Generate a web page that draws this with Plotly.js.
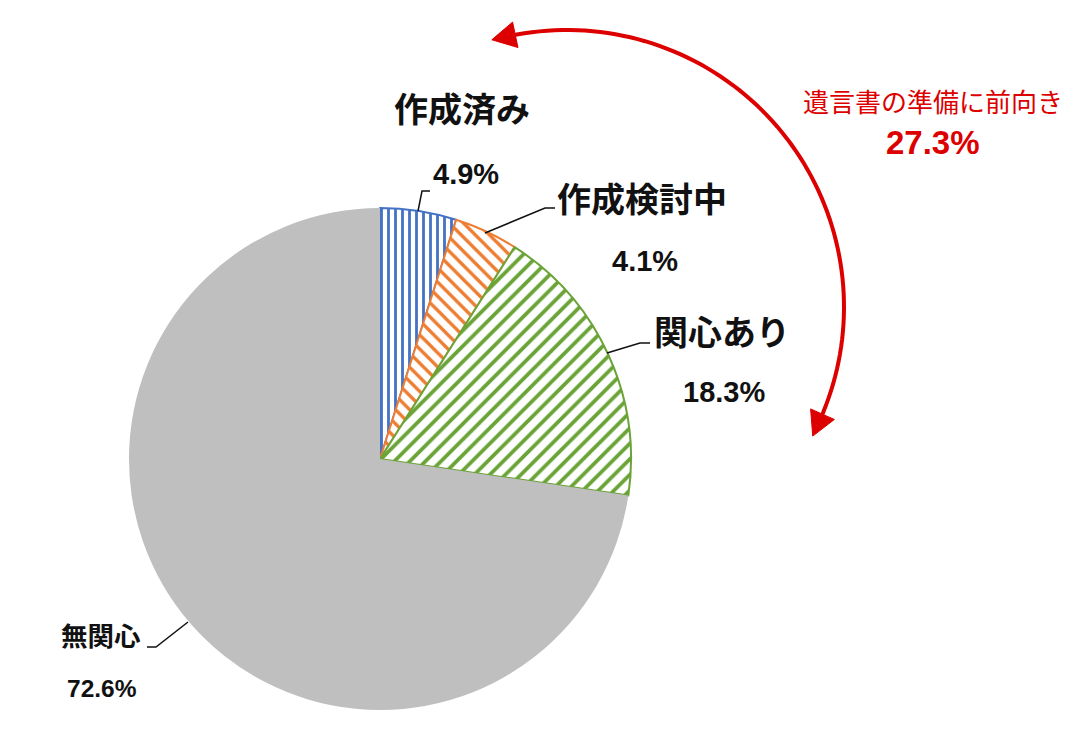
<!DOCTYPE html>
<html>
<head>
<meta charset="utf-8">
<script src="https://cdn.plot.ly/plotly-3.0.1.min.js"></script>
<style>
  html, body { margin: 0; padding: 0; background: #fff; }
  #chart { width: 1078px; height: 752px; }
</style>
</head>
<body>
<div id="chart"></div>
<script>
// 遺言書に対する意識（構成比 %）
const categories = ['作成済み', '作成検討中', '関心あり', '無関心'];
const shares = [4.9, 4.1, 18.3, 72.6];
const valueLabels = ['4.9%', '4.1%', '18.3%', '72.6%'];
const positiveLabel = '遺言書の準備に前向き';
const positiveShare = '27.3%';

const W = 1078, H = 752;
const px = x => x / W;
const py = y => 1 - y / H;

const sliceColors = ['#4472C4', '#ED7D31', '#6AA336', '#BFBFBF'];

// pie placement (pixels)
const cx = 380, cy = 459, R = 251;

const pie = {
  type: 'pie',
  labels: categories,
  values: shares,
  sort: false,
  direction: 'clockwise',
  rotation: 0,
  textinfo: 'none',
  hoverinfo: 'label+value',
  showlegend: false,
  domain: { x: [px(cx - R), px(cx + R)], y: [py(cy + R), py(cy - R)] },
  marker: {
    colors: sliceColors,
    line: { color: sliceColors, width: [2, 2, 2, 0] },
    pattern: {
      shape: ['|', '\\', '/', ''],
      fgcolor: sliceColors,
      bgcolor: ['#ffffff', '#ffffff', '#ffffff', '#BFBFBF'],
      size: [7, 10, 11, 8],
      solidity: [0.4, 0.34, 0.34, 0.3]
    }
  }
};

const labelFont = 'Noto Sans CJK JP, Liberation Sans, sans-serif';
const numFont = 'Liberation Sans, Arial, sans-serif';

function txt(text, x, y, size, family, color, weight) {
  return {
    text: text, x: px(x), y: py(y), xref: 'paper', yref: 'paper',
    xanchor: 'center', yanchor: 'middle', showarrow: false,
    font: { family: family, size: size, color: color || '#111', weight: weight || 'bold' }
  };
}

// label positions: [name x, name y, value x, value y, name size, value size]
const labelPos = [
  [462, 108, 466, 174, 34, 29],
  [642, 197, 645, 261, 34, 29],
  [722, 330, 724, 392, 34, 29],
  [101, 634, 102, 688, 26.5, 24.5]
];

const annotations = [];
categories.forEach((c, i) => {
  const p = labelPos[i];
  annotations.push(txt(c, p[0], p[1], p[4], labelFont));
  annotations.push(txt(valueLabels[i], p[2], p[3], p[5], numFont));
});
annotations.push(txt(positiveLabel, 933, 101, 26, labelFont, '#DD0000', 'normal'));
annotations.push(txt(positiveShare, 933, 143, 33, numFont, '#DD0000', 'bold'));

// leader lines (pixel polylines)
const leaders = [
  [[418, 211], [422, 191], [430, 191]],
  [[485, 233], [545, 208], [555, 208]],
  [[607, 353], [640, 343], [650, 343]],
  [[188, 622], [156, 647], [147, 647]]
];
function polyPath(pts) {
  return pts.map((p, i) => (i ? 'L' : 'M') + px(p[0]).toFixed(5) + ',' + py(p[1]).toFixed(5)).join(' ');
}
const shapes = leaders.map(l => ({
  type: 'path', xref: 'paper', yref: 'paper', path: polyPath(l),
  line: { color: '#111', width: 1.5 }
}));

// red bracket arc with arrowheads at both ends
const red = '#DD0000';
const ac = [567, 307], ar = 277;
const a0 = -102 * Math.PI / 180, a1 = 24 * Math.PI / 180;
const arcPts = [];
for (let k = 0; k <= 80; k++) {
  const a = a0 + (a1 - a0) * k / 80;
  arcPts.push([ac[0] + ar * Math.cos(a), ac[1] + ar * Math.sin(a)]);
}
shapes.push({ type: 'path', xref: 'paper', yref: 'paper', path: polyPath(arcPts),
  line: { color: red, width: 4 } });

function head(a, sign) {
  // tangent direction along the arc at angle a (sign -1: backwards)
  const base = [ac[0] + ar * Math.cos(a), ac[1] + ar * Math.sin(a)];
  const t = [-Math.sin(a) * sign, Math.cos(a) * sign];
  const n = [-t[1], t[0]];
  const L = 24, hw = 13;
  const tip = [base[0] + t[0] * L * 0.75, base[1] + t[1] * L * 0.75];
  const b = [base[0] - t[0] * L * 0.25, base[1] - t[1] * L * 0.25];
  const p1 = [b[0] + n[0] * hw, b[1] + n[1] * hw];
  const p2 = [b[0] - n[0] * hw, b[1] - n[1] * hw];
  return { type: 'path', xref: 'paper', yref: 'paper', path: polyPath([tip, p1, p2]) + ' Z',
    fillcolor: red, line: { color: red, width: 1 } };
}
shapes.push(head(a0, -1));
shapes.push(head(a1, 1));

const layout = {
  width: W, height: H,
  margin: { l: 0, r: 0, t: 0, b: 0 },
  paper_bgcolor: '#ffffff',
  showlegend: false,
  annotations: annotations,
  shapes: shapes
};

Plotly.newPlot('chart', [pie], layout, { displayModeBar: false, staticPlot: true });
</script>
</body>
</html>
